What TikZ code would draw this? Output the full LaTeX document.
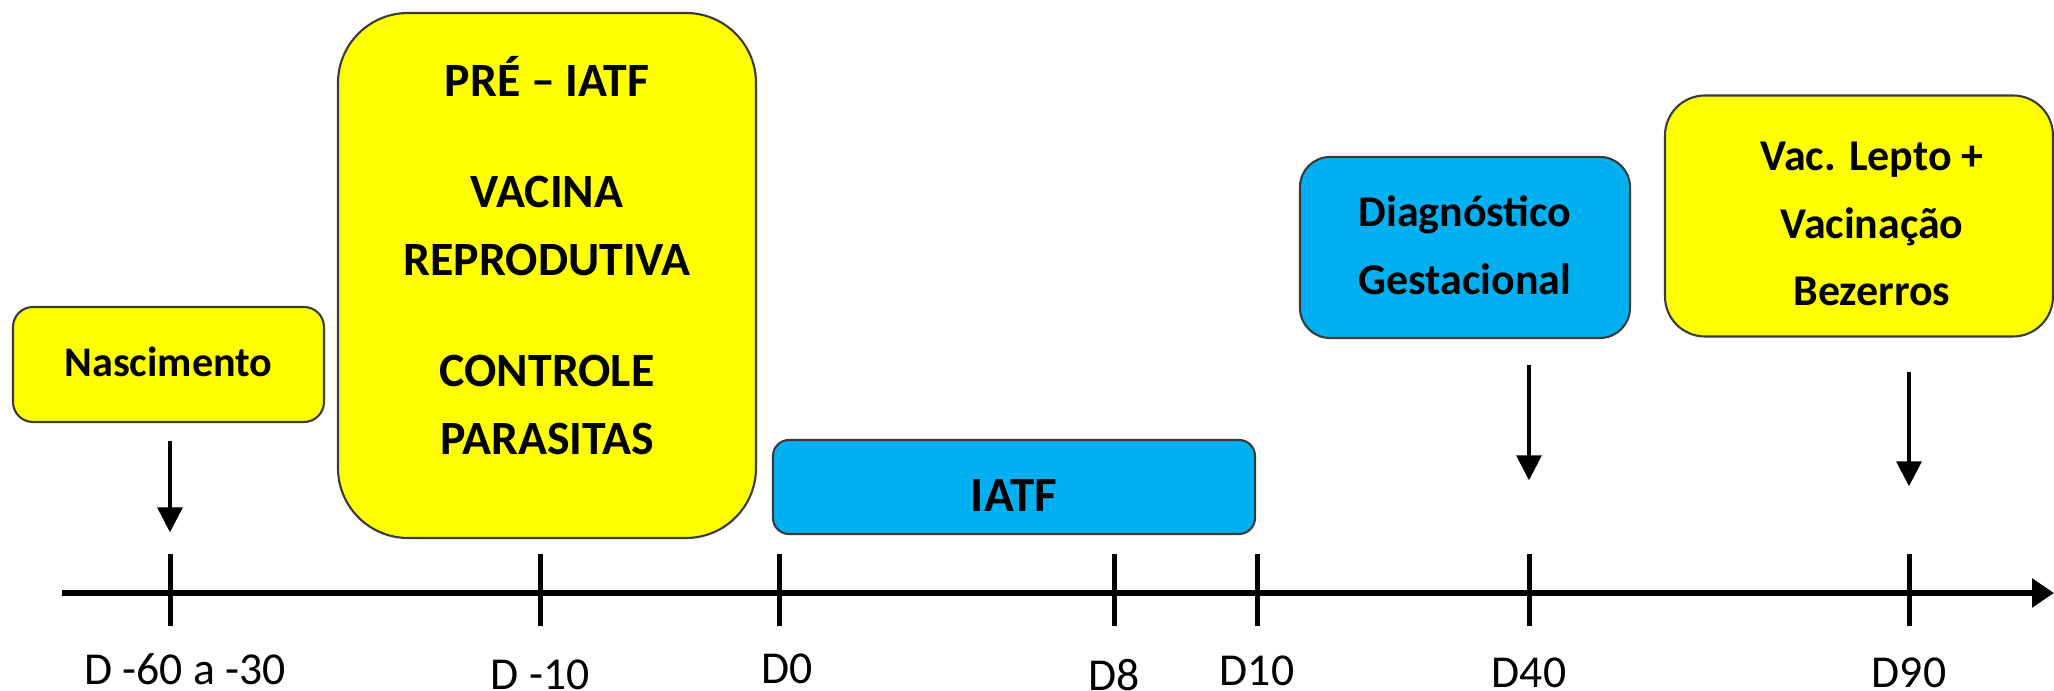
\documentclass[tikz,border=0pt]{standalone}
\usepackage{fontspec}
\setmainfont{Carlito}
\usetikzlibrary{arrows.meta,positioning}
\definecolor{amarelo}{HTML}{FFFF00}
\definecolor{azulclaro}{HTML}{00B0F0}
\definecolor{borda}{HTML}{3A3A3A}

\begin{document}
\begin{tikzpicture}[y=-1cm,
    caixa/.style = {draw=borda, line width=0.6pt, rounded corners=#1, inner sep=0pt},
    caixa/.default = 0.2cm,
    rotulo/.style = {align=center, inner sep=0pt, font=\bfseries\fontsize{#1}{19.3}\selectfont},
    rotulo/.default = 12,
    marco/.style = {fill=black, inner sep=0pt, minimum width=0.05cm, minimum height=0.72cm},
    dia/.style = {inner sep=0pt, font=\fontsize{13}{15}\selectfont},
    seta/.style = {line width=1pt, -{Triangle[width=0.25cm, length=0.25cm]}}]
  \useasboundingbox (0,0) rectangle (20.54,6.91);

  % linha do tempo
  \coordinate (ini) at (0.62,5.93);
  \coordinate (fim) at (20.54,5.93);
  \draw[line width=1.7pt, -{Triangle[width=0.28cm, length=0.22cm]}] (ini) -- (fim);

  % marcos
  \node[marco] (t1) at (1.70,5.90) {};
  \node[marco] (t2) at (5.40,5.90) {};
  \node[marco] (t3) at (7.79,5.90) {};
  \node[marco] (t4) at (11.14,5.90) {};
  \node[marco] (t5) at (12.57,5.90) {};
  \node[marco] (t6) at (15.29,5.90) {};
  \node[marco] (t7) at (19.09,5.90) {};

  % dias
  \node[dia, below=0.265cm of t1, xshift=0.15cm] (d1) {D -60 a -30};
  \node[dia, below=0.325cm of t2] (d2) {D -10};
  \node[dia, below=0.265cm of t3, xshift=0.08cm] (d3) {D0};
  \node[dia, below=0.315cm of t4] (d4) {D8};
  \node[dia, below=0.285cm of t5] (d5) {D10};
  \node[dia, below=0.305cm of t6] (d6) {D40};
  \node[dia, below=0.305cm of t7] (d7) {D90};

  % caixas
  \node[caixa=0.2cm, fill=amarelo, minimum width=3.11cm, minimum height=1.15cm] (nasc) at (1.685,3.645) {};
  \node[caixa=0.7cm, fill=amarelo, minimum width=4.18cm, minimum height=5.25cm] (pre) at (5.47,2.755) {};
  \node[caixa=0.16cm, fill=azulclaro, minimum width=4.82cm, minimum height=0.94cm] (iatf) at (10.14,4.87) {};
  \node[caixa=0.3cm, fill=azulclaro, minimum width=3.30cm, minimum height=1.81cm] (diag) at (14.65,2.475) {};
  \node[caixa=0.4cm, fill=amarelo, minimum width=3.88cm, minimum height=2.41cm] (vac) at (18.59,2.16) {};

  % textos
  \node[rotulo=12] (nasctexto) at (1.685,3.615) {Nascimento};
  \node[rotulo=13.6] (pretexto) at (5.47,2.555)
    {PRÉ – IATF\\[12.3pt] VACINA\\ REPRODUTIVA\\[12.3pt] CONTROLE\\ PARASITAS};
  \node[rotulo=14] (iatftexto) at (10.14,4.96) {IATF};
  \node[rotulo=12.5] (diagtexto) at (14.65,2.45) {Diagnóstico\\ Gestacional};
  \node[rotulo=12.5] (vactexto) at (18.72,2.24) {Vac. Lepto +\\ Vacinação\\ Bezerros};

  % setas
  \draw[seta, shorten <=0.18cm, shorten >=0.21cm] (nasc.south -| t1) -- (t1.north);
  \draw[seta, shorten <=0.26cm, shorten >=0.73cm] (diag.south -| t6) -- (t6.north);
  \draw[seta, shorten <=0.34cm, shorten >=0.67cm] (vac.south -| t7) -- (t7.north);
\end{tikzpicture}
\end{document}
